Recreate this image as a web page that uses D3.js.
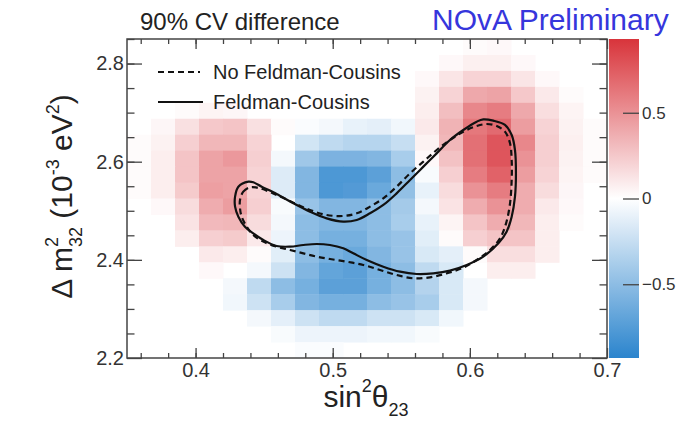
<!DOCTYPE html>
<html>
<head>
<meta charset="utf-8">
<script src="https://cdn.jsdelivr.net/npm/d3@7"></script>
<style>
  body { margin: 0; background: #fff; }
  text { font-family: "Liberation Sans", Arial, Helvetica, sans-serif; }
</style>
</head>
<body>
<script>
var width = 680;
var height = 423;

// bin edges of the 2D histogram
var sinEdges = [0.35, 0.3675, 0.385, 0.4025, 0.42, 0.4375, 0.455, 0.4725, 0.49, 0.5075, 0.525,
                0.5425, 0.56, 0.5775, 0.595, 0.6125, 0.63, 0.6475, 0.665, 0.6825, 0.7];
var dmEdges = [2.2, 2.2325, 2.265, 2.2975, 2.33, 2.3625, 2.395, 2.4275, 2.46, 2.4925, 2.525,
               2.5575, 2.59, 2.6225, 2.655, 2.6875, 2.72, 2.7525, 2.785, 2.8175, 2.85];

// 90% CV difference, rows listed from the top (high dm2) down
var cvDiff = [
  [0,0,0,0,0,0,0,0,0,0,0,0,0,0,0.02,0.03,0,0,0,0],
  [0,0,0,0,0,0,0,0,0,0,0,0,0,0.03,0.07,0.07,0.03,0,0,0],
  [0,0,0,0,0,0,0,0,0,0,0,0,0.03,0.12,0.2,0.2,0.12,0.03,0,0],
  [0,0,0,0,0,0,0,0,0,0,0,0,0.06,0.2,0.4,0.42,0.25,0.1,0.02,0],
  [0,0,0.02,0.05,0.04,0,0,0,0,0,0,0,0.08,0.3,0.55,0.6,0.4,0.15,0.05,0],
  [0,0.04,0.14,0.25,0.27,0.14,0.02,-0.02,-0.05,-0.1,-0.12,-0.06,0.1,0.35,0.62,0.68,0.45,0.2,0.06,0.02],
  [0.02,0.06,0.22,0.33,0.33,0.2,0,-0.2,-0.28,-0.32,-0.32,-0.25,0.06,0.33,0.66,0.78,0.55,0.22,0.07,0.02],
  [0.02,0.08,0.27,0.42,0.47,0.22,-0.05,-0.42,-0.58,-0.58,-0.55,-0.38,0.03,0.28,0.66,0.78,0.5,0.22,0.06,0.02],
  [0.02,0.08,0.27,0.42,0.42,0.2,-0.15,-0.55,-0.78,-0.78,-0.72,-0.5,-0.03,0.22,0.6,0.72,0.45,0.2,0.05,0.02],
  [0.02,0.08,0.24,0.44,0.42,0.2,-0.15,-0.55,-0.78,-0.76,-0.65,-0.48,-0.1,0.16,0.5,0.6,0.38,0.16,0.04,0],
  [0,0.03,0.16,0.38,0.45,0.22,-0.03,-0.45,-0.55,-0.55,-0.5,-0.4,-0.05,0.13,0.38,0.5,0.38,0.1,0.03,0],
  [0,0,0.13,0.32,0.33,0.16,-0.05,-0.5,-0.55,-0.55,-0.5,-0.38,-0.1,0.05,0.27,0.38,0.33,0.08,0.02,0],
  [0,0,0.08,0.22,0.24,0.1,-0.08,-0.5,-0.6,-0.6,-0.5,-0.45,-0.13,0.02,0.22,0.27,0.27,0.08,0,0],
  [0,0,0,0.1,0.08,0.02,-0.13,-0.5,-0.6,-0.65,-0.55,-0.45,-0.17,-0.12,0.02,0.15,0.15,0.08,0,0],
  [0,0,0,0.03,0,-0.05,-0.22,-0.55,-0.68,-0.72,-0.6,-0.5,-0.28,-0.17,0,0.08,0.08,0,0,0],
  [0,0,0,0,-0.05,-0.28,-0.5,-0.6,-0.72,-0.72,-0.6,-0.5,-0.33,-0.17,-0.05,0,0,0,0,0],
  [0,0,0,0,-0.06,-0.22,-0.38,-0.55,-0.6,-0.6,-0.5,-0.45,-0.38,-0.17,-0.05,0,0,0,0,0],
  [0,0,0,0,0,-0.05,-0.12,-0.22,-0.28,-0.28,-0.22,-0.22,-0.17,-0.06,0,0,0,0,0,0],
  [0,0,0,0,0,0,-0.03,-0.08,-0.08,-0.08,-0.06,-0.06,-0.03,0,0,0,0,0,0,0],
  [0,0,0,0,0,0,0,-0.02,-0.02,0,0,0,0,0,0,0,0,0,0,0]
];

// 90% contours [sin2theta23, dm2]
var fcContour = [
  [0.4288,2.5288],[0.4312,2.5491],[0.4385,2.5593],[0.4421,2.5580],[0.4482,2.5491],[0.4591,2.5342],
  [0.4713,2.5152],[0.4834,2.4982],[0.4956,2.4846],[0.5077,2.4778],[0.5175,2.4812],[0.5272,2.4948],
  [0.5369,2.5118],[0.5466,2.5355],[0.5564,2.5627],[0.5661,2.5899],[0.5758,2.6170],[0.5855,2.6442],
  [0.5952,2.6646],[0.6050,2.6816],[0.6098,2.6863],[0.6171,2.6836],[0.6256,2.6748],[0.6305,2.6544],
  [0.6329,2.6238],[0.6336,2.5763],[0.6329,2.5288],[0.6305,2.4880],[0.6268,2.4574],[0.6208,2.4337],
  [0.6098,2.4065],[0.5977,2.3895],[0.5855,2.3780],[0.5734,2.3725],[0.5612,2.3712],[0.5491,2.3759],
  [0.5369,2.3861],[0.5248,2.3997],[0.5150,2.4133],[0.5077,2.4235],[0.4980,2.4303],[0.4883,2.4323],
  [0.4786,2.4303],[0.4689,2.4269],[0.4591,2.4282],[0.4494,2.4405],[0.4421,2.4540],[0.4360,2.4676],
  [0.4312,2.4880],[0.4288,2.5084]
];
var noFcContour = [
  [0.4324,2.5220],[0.4348,2.5390],[0.4397,2.5478],[0.4470,2.5457],[0.4591,2.5322],[0.4713,2.5165],
  [0.4834,2.5016],[0.4956,2.4914],[0.5077,2.4894],[0.5175,2.4948],[0.5272,2.5084],[0.5369,2.5254],
  [0.5466,2.5491],[0.5564,2.5763],[0.5661,2.6001],[0.5758,2.6238],[0.5855,2.6442],[0.5952,2.6612],
  [0.6050,2.6727],[0.6123,2.6768],[0.6196,2.6727],[0.6256,2.6612],[0.6293,2.6374],[0.6305,2.6035],
  [0.6305,2.5627],[0.6293,2.5152],[0.6264,2.4744],[0.6220,2.4439],[0.6147,2.4201],[0.6050,2.3997],
  [0.5940,2.3827],[0.5831,2.3725],[0.5709,2.3644],[0.5588,2.3624],[0.5466,2.3692],[0.5345,2.3793],
  [0.5223,2.3895],[0.5102,2.3963],[0.4980,2.4017],[0.4883,2.4065],[0.4786,2.4133],[0.4689,2.4201],
  [0.4591,2.4269],[0.4494,2.4371],[0.4421,2.4506],[0.4373,2.4676],[0.4336,2.4880],[0.4324,2.5050]
];

var xTicks = [0.4, 0.5, 0.6, 0.7];
var yTicks = [2.2, 2.4, 2.6, 2.8];
var zTicks = [-0.5, 0, 0.5];

var svg = d3.select("body").append("svg")
  .attr("width", width)
  .attr("height", height);

var plotMargins = { top: 39, left: 127, right: 73, bottom: 65 };
var plotWidth = width - plotMargins.left - plotMargins.right;
var plotHeight = height - plotMargins.top - plotMargins.bottom;

var xScale = d3.scaleLinear().domain([0.35, 0.7]).range([0, plotWidth]);
var yScale = d3.scaleLinear().domain([2.2, 2.85]).range([plotHeight, 0]);
var zMin = -0.93, zMax = 0.93;
var color = d3.scaleLinear()
  .domain([zMin, 0, zMax])
  .range(["#2b84cd", "#ffffff", "#d8343b"]);

var defs = svg.append("defs");
// the reference image is a bit soft, blur the cells slightly
defs.append("filter").attr("id", "soft")
  .append("feGaussianBlur").attr("stdDeviation", 0.7);

var plotGroup = svg.append("g")
  .attr("transform", "translate(" + plotMargins.left + "," + plotMargins.top + ")");

// heat map cells
var cells = [];
cvDiff.forEach(function (row, r) {
  var yi = cvDiff.length - 1 - r;
  row.forEach(function (v, i) {
    if (v !== 0) cells.push({ x0: sinEdges[i], x1: sinEdges[i + 1], y0: dmEdges[yi], y1: dmEdges[yi + 1], v: v });
  });
});

plotGroup.append("g")
  .attr("filter", "url(#soft)")
  .selectAll("rect")
  .data(cells)
  .join("rect")
  .attr("x", function (d) { return xScale(d.x0); })
  .attr("y", function (d) { return yScale(d.y1); })
  .attr("width", function (d) { return xScale(d.x1) - xScale(d.x0) + 0.5; })
  .attr("height", function (d) { return yScale(d.y0) - yScale(d.y1) + 0.5; })
  .attr("fill", function (d) { return color(d.v); });

// contours
var line = d3.line()
  .x(function (d) { return xScale(d[0]); })
  .y(function (d) { return yScale(d[1]); })
  .curve(d3.curveCatmullRomClosed.alpha(0.5));

plotGroup.append("path")
  .datum(noFcContour)
  .attr("d", line)
  .attr("fill", "none")
  .attr("stroke", "#111")
  .attr("stroke-width", 2.2)
  .attr("stroke-dasharray", "6,4");

plotGroup.append("path")
  .datum(fcContour)
  .attr("d", line)
  .attr("fill", "none")
  .attr("stroke", "#111")
  .attr("stroke-width", 2.2);

// axes, ticks pointing inward like ROOT
var xMinor = d3.range(0.36, 0.70, 0.02);
var yMinor = d3.range(2.25, 2.85, 0.05);

function styleAxis(g) {
  g.select(".domain").remove();
  g.selectAll("line").attr("stroke", "#444").attr("stroke-width", 1.3);
  g.selectAll("text").attr("fill", "#333").style("font-size", "20px");
}

plotGroup.append("g")
  .attr("transform", "translate(0," + plotHeight + ")")
  .call(d3.axisBottom(xScale).tickValues(xMinor).tickSize(-5).tickFormat(""))
  .call(styleAxis);
plotGroup.append("g")
  .attr("transform", "translate(0," + plotHeight + ")")
  .call(d3.axisBottom(xScale).tickValues(xTicks).tickSize(-10).tickPadding(5).tickFormat(d3.format(".1f")))
  .call(styleAxis);
plotGroup.append("g")
  .call(d3.axisTop(xScale).tickValues(xMinor).tickSize(-5).tickFormat(""))
  .call(styleAxis);
plotGroup.append("g")
  .call(d3.axisTop(xScale).tickValues(xTicks).tickSize(-10).tickFormat(""))
  .call(styleAxis);

plotGroup.append("g")
  .call(d3.axisLeft(yScale).tickValues(yMinor).tickSize(-7.5).tickFormat(""))
  .call(styleAxis);
plotGroup.append("g")
  .call(d3.axisLeft(yScale).tickValues(yTicks).tickSize(-15).tickPadding(3).tickFormat(d3.format(".1f")))
  .call(styleAxis);
plotGroup.append("g")
  .attr("transform", "translate(" + plotWidth + ",0)")
  .call(d3.axisRight(yScale).tickValues(yMinor).tickSize(-7.5).tickFormat(""))
  .call(styleAxis);
plotGroup.append("g")
  .attr("transform", "translate(" + plotWidth + ",0)")
  .call(d3.axisRight(yScale).tickValues(yTicks).tickSize(-15).tickFormat(""))
  .call(styleAxis);

// frame
plotGroup.append("rect")
  .attr("width", plotWidth)
  .attr("height", plotHeight)
  .attr("fill", "none")
  .attr("stroke", "#444")
  .attr("stroke-width", 1.5);

// legend
var legend = plotGroup.append("g").attr("transform", "translate(31,33)");
legend.append("line").attr("x1", 0).attr("x2", 42).attr("y1", 0).attr("y2", 0)
  .attr("stroke", "#111").attr("stroke-width", 2.2).attr("stroke-dasharray", "6,4");
legend.append("text").attr("x", 55).attr("y", 7).attr("fill", "#222")
  .style("font-size", "20px").text("No Feldman-Cousins");
legend.append("line").attr("x1", 0).attr("x2", 45).attr("y1", 30).attr("y2", 30)
  .attr("stroke", "#111").attr("stroke-width", 2.2);
legend.append("text").attr("x", 55).attr("y", 37).attr("fill", "#222")
  .style("font-size", "20px").text("Feldman-Cousins");

// colour bar
var barX = plotMargins.left + plotWidth + 2;
var barW = 30;
var zScale = d3.scaleLinear().domain([zMin, zMax]).range([plotHeight, 0]);
var grad = defs.append("linearGradient").attr("id", "zgrad")
  .attr("x1", 0).attr("y1", 1).attr("x2", 0).attr("y2", 0);
grad.selectAll("stop")
  .data(d3.range(0, 1.0001, 0.1))
  .join("stop")
  .attr("offset", function (t) { return t; })
  .attr("stop-color", function (t) { return color(zMin + t * (zMax - zMin)); });

var barGroup = svg.append("g")
  .attr("transform", "translate(" + barX + "," + plotMargins.top + ")");
barGroup.append("rect")
  .attr("width", barW)
  .attr("height", plotHeight)
  .attr("fill", "url(#zgrad)");
barGroup.append("g")
  .attr("transform", "translate(" + barW + ",0)")
  .call(d3.axisRight(zScale).tickValues(zTicks).tickSize(-16).tickPadding(3).tickFormat(d3.format("")))
  .call(function (g) {
    g.select(".domain").remove();
    g.selectAll("line").attr("stroke", "#444").attr("stroke-width", 1.3);
    g.selectAll("text").attr("fill", "#333").style("font-size", "17px");
  });

// titles
svg.append("text").attr("x", 140).attr("y", 30).attr("fill", "#222")
  .style("font-size", "24px").text("90% CV difference");
svg.append("text").attr("x", 432).attr("y", 30).attr("fill", "#3636dc")
  .style("font-size", "30px").text("NOvA Preliminary");

var xTitle = svg.append("text")
  .attr("x", plotMargins.left + plotWidth / 2 - 1)
  .attr("y", 407)
  .attr("text-anchor", "middle")
  .attr("fill", "#222")
  .style("font-size", "30px");
xTitle.append("tspan").text("sin");
xTitle.append("tspan").attr("dy", -15).style("font-size", "18px").text("2");
xTitle.append("tspan").attr("dy", 15).text("θ");
xTitle.append("tspan").attr("dy", 9).style("font-size", "18px").text("23");

var yTitle = svg.append("text")
  .attr("transform", "translate(72," + (plotMargins.top + plotHeight / 2 - 2) + ") rotate(-90)")
  .attr("text-anchor", "middle")
  .attr("fill", "#222")
  .style("font-size", "30px");
yTitle.append("tspan").text("Δ m");
yTitle.append("tspan").attr("dy", -14).style("font-size", "18px").text("2");
yTitle.append("tspan").attr("dx", -10).attr("dy", 24).style("font-size", "18px").text("32");
yTitle.append("tspan").attr("dy", -10).text(" (10");
yTitle.append("tspan").attr("dy", -13).style("font-size", "18px").text("-3");
yTitle.append("tspan").attr("dy", 13).text(" eV");
yTitle.append("tspan").attr("dy", -13).style("font-size", "18px").text("2");
yTitle.append("tspan").attr("dy", 13).text(")");
</script>
</body>
</html>
